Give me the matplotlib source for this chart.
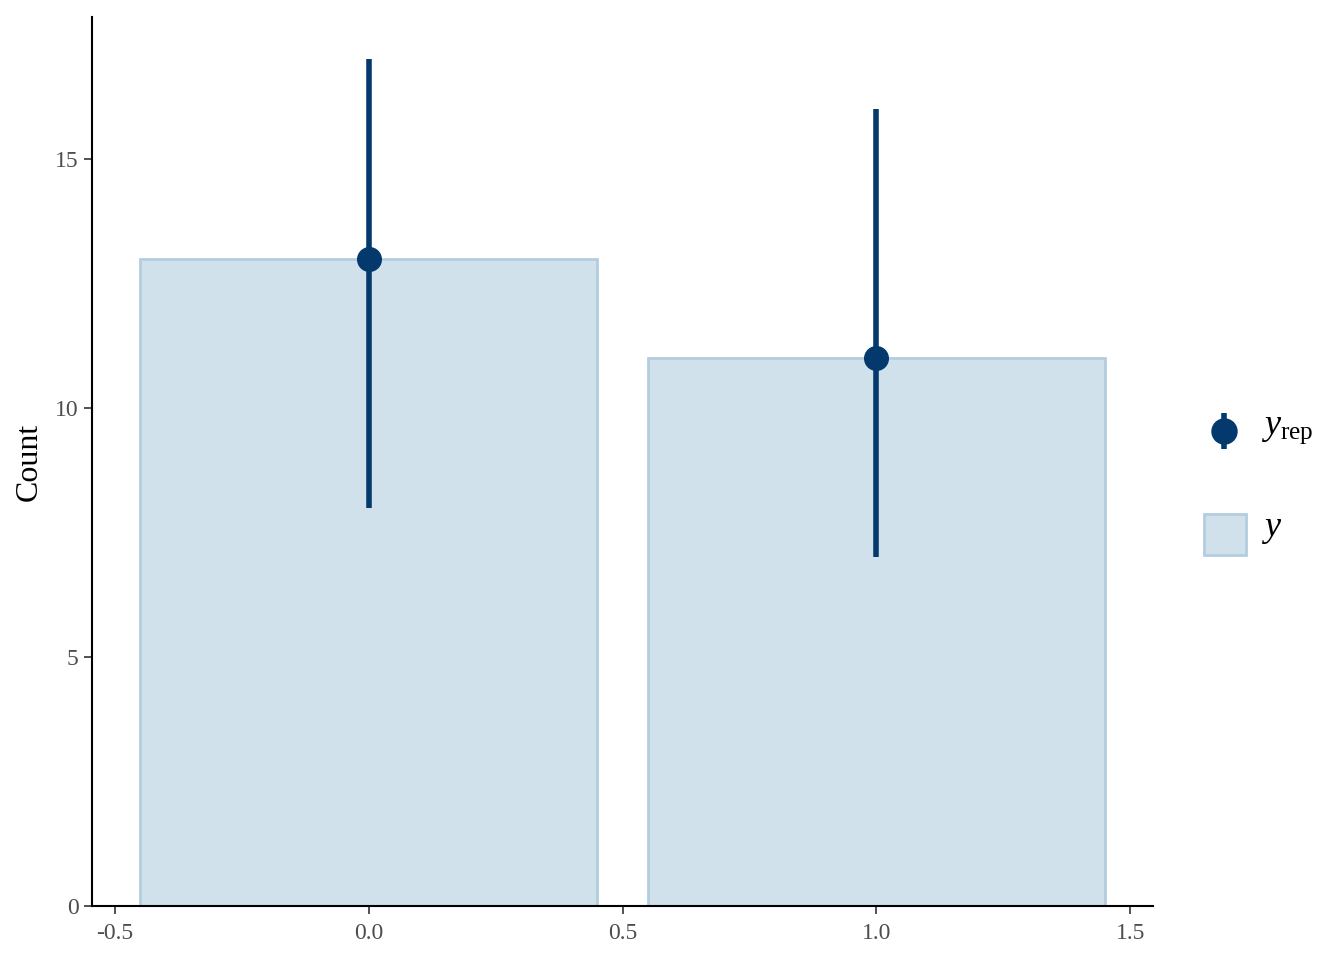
import matplotlib.pyplot as plt
import numpy as np

# observed counts and replicated summaries
categories = [0, 1]
y_obs = [13, 11]
yrep_mid = [13, 11]
yrep_lo = [8, 7]
yrep_hi = [17, 16]

light = '#d1e1ec'
light_hl = '#b3cde0'
dark = '#03396c'

plt.rcParams['font.family'] = ['Liberation Serif', 'DejaVu Serif']
plt.rcParams['mathtext.fontset'] = 'custom'
plt.rcParams['mathtext.rm'] = 'Liberation Serif'
plt.rcParams['mathtext.it'] = 'Liberation Serif:italic'

W, H = 1344, 960
fig = plt.figure(figsize=(W / 100, H / 100), dpi=100)
ax = fig.add_axes([92 / W, 1 - 906 / H, (1153 - 92) / W, (906 - 17) / H])

ax.bar(categories, y_obs, width=0.9, color=light, edgecolor=light_hl, linewidth=2, zorder=1)
ax.vlines(categories, yrep_lo, yrep_hi, color=dark, linewidth=4, zorder=2)
ax.plot(categories, yrep_mid, 'o', color=dark, markersize=17, zorder=3)

ax.set_xlim(-0.545, 1.545)
ax.set_ylim(0, max(yrep_hi) * 1.05)
ax.set_xticks([-0.5, 0.0, 0.5, 1.0, 1.5])
ax.set_xticklabels(['-0.5', '0.0', '0.5', '1.0', '1.5'])
ax.set_yticks([0, 5, 10, 15])
ax.tick_params(labelsize=17, labelcolor='#4d4d4d', color='#333333', length=6, width=1.2)
ax.tick_params(axis='x', pad=6)
for side in ['top', 'right']:
    ax.spines[side].set_visible(False)
for side in ['left', 'bottom']:
    ax.spines[side].set_linewidth(1.5)
ax.set_ylabel('Count', fontsize=23, labelpad=8)

# legend drawn in its own small axes
lax = fig.add_axes([1190 / W, 1 - 570 / H, 140 / W, 170 / H])
lax.set_xlim(1190, 1330)
lax.set_ylim(570, 400)
lax.axis('off')
lax.vlines([1224], [413], [449], color=dark, linewidth=4)
lax.plot([1224], [431], 'o', color=dark, markersize=18)
lax.add_patch(plt.Rectangle((1204, 514), 42, 41, facecolor=light, edgecolor=light_hl, linewidth=2))
lax.text(1261, 430, r'$y_{\mathrm{rep}}$', fontsize=26, va='center', ha='left')
lax.text(1261, 530, r'$y$', fontsize=26, va='center', ha='left')

fig.savefig('out.png', dpi=100)
